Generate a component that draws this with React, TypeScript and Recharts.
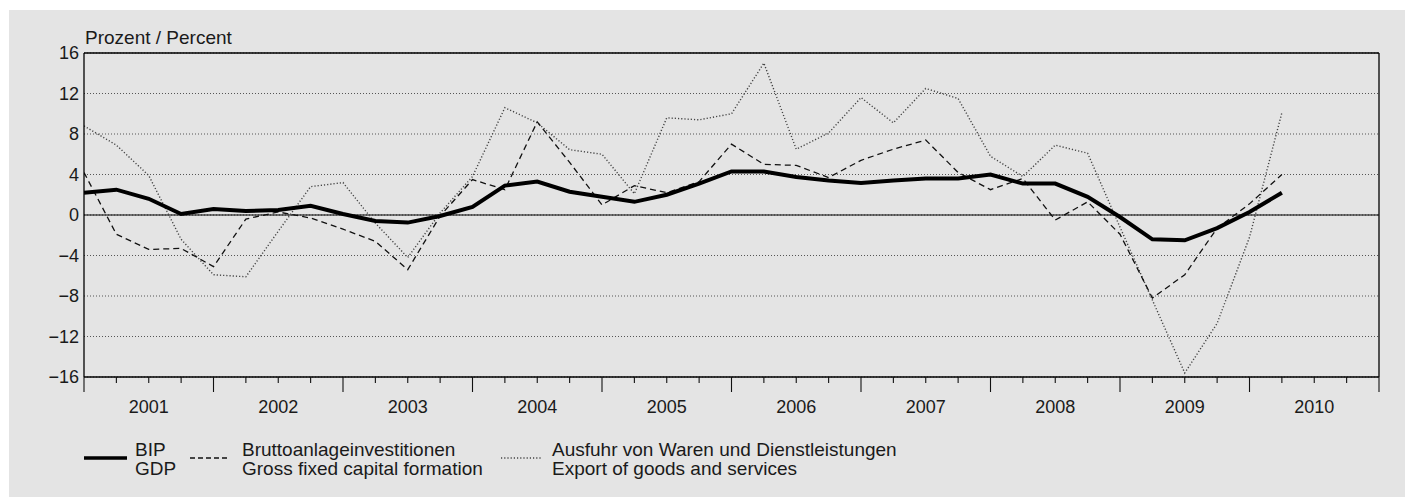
import { CartesianGrid, Line, LineChart, ReferenceLine, XAxis, YAxis } from 'recharts'

// quarterly, 2001 Q1 – 2010 Q2
const quarters = [
  '2001Q1', '2001Q2', '2001Q3', '2001Q4',
  '2002Q1', '2002Q2', '2002Q3', '2002Q4',
  '2003Q1', '2003Q2', '2003Q3', '2003Q4',
  '2004Q1', '2004Q2', '2004Q3', '2004Q4',
  '2005Q1', '2005Q2', '2005Q3', '2005Q4',
  '2006Q1', '2006Q2', '2006Q3', '2006Q4',
  '2007Q1', '2007Q2', '2007Q3', '2007Q4',
  '2008Q1', '2008Q2', '2008Q3', '2008Q4',
  '2009Q1', '2009Q2', '2009Q3', '2009Q4',
  '2010Q1', '2010Q2',
]

const gdp = [
  2.2, 2.5, 1.6, 0.1, 0.6, 0.4, 0.5, 0.9, 0.1, -0.6, -0.75, -0.1,
  0.8, 2.9, 3.3, 2.3, 1.8, 1.3, 2.0, 3.1, 4.3, 4.3, 3.75, 3.4,
  3.15, 3.4, 3.6, 3.6, 4.0, 3.1, 3.1, 1.8, -0.2, -2.4, -2.5, -1.3,
  0.3, 2.2,
]

const gfcf = [
  4.2, -1.9, -3.4, -3.3, -5.1, -0.4, 0.3, -0.3, -1.4, -2.6, -5.4, -0.1,
  3.5, 2.5, 9.2, 5.2, 1.0, 2.9, 2.2, 3.3, 7.0, 5.0, 4.9, 3.7,
  5.4, 6.5, 7.4, 4.2, 2.5, 3.6, -0.5, 1.3, -1.9, -8.2, -5.9, -1.3,
  1.1, 4.0,
]

const exports = [
  8.8, 6.9, 3.9, -2.4, -5.9, -6.1, -1.6, 2.8, 3.2, -0.8, -4.2, 0.2,
  3.8, 10.6, 9.1, 6.45, 6.0, 2.1, 9.6, 9.4, 10.0, 15.0, 6.5, 8.1,
  11.6, 9.1, 12.5, 11.5, 5.8, 3.8, 6.9, 6.1, -1.2, -8.4, -15.6, -10.7,
  -2.2, 10.1,
]

const years = ['2001', '2002', '2003', '2004', '2005', '2006', '2007', '2008', '2009', '2010']
const yTicks = [-16, -12, -8, -4, 0, 4, 8, 12, 16]

const data = quarters.map((q, i) => ({
  x: i,
  q,
  gdp: gdp[i],
  gfcf: gfcf[i],
  exp: exports[i],
}))

const xTicks = Array.from({ length: years.length * 4 + 1 }, (_, i) => i)

const font = '"Liberation Sans", Arial, sans-serif'
const textColor = '#1a1a1a'

function XTick(props: any) {
  const { x, y, payload } = props
  const v = payload.value as number
  const major = v % 4 === 0
  return (
    <g>
      <line x1={x} x2={x} y1={y} y2={y + (major ? 15 : 6)} stroke="#111" strokeWidth={1.1} />
      {v % 4 === 2 && (
        <text x={x} y={y + 36} textAnchor="middle" fontSize={18} fontFamily={font} fill={textColor}>
          {years[(v - 2) / 4]}
        </text>
      )}
    </g>
  )
}

const fmtY = (v: number) => (v < 0 ? `\u2212${Math.abs(v)}` : `${v}`)

export default function App() {
  return (
    <div style={{ position: 'relative', width: 1405, height: 489, fontFamily: font }}>
      <div style={{ position: 'absolute', left: 1, top: 2, width: 1404, height: 487, background: '#e4e4e4' }}>
        <LineChart
          width={1404}
          height={487}
          data={data}
          margin={{ top: 43, right: 34, left: 0, bottom: 80 }}
        >
          <CartesianGrid vertical={false} stroke="#555" strokeDasharray="1 2" />
          <XAxis
            dataKey="x"
            type="number"
            domain={[0, 40]}
            ticks={xTicks}
            interval={0}
            tickSize={0}
            tickMargin={0}
            tickLine={false}
            tick={<XTick />}
            axisLine={{ stroke: '#000', strokeWidth: 1.3 }}
            height={40}
            allowDataOverflow
          />
          <YAxis
            type="number"
            domain={[-16, 16]}
            ticks={yTicks}
            interval={0}
            width={75}
            tickSize={0}
            tickMargin={5}
            tickLine={false}
            tickFormatter={fmtY}
            axisLine={{ stroke: '#000', strokeWidth: 1.3 }}
            tick={{ fontSize: 18, fontFamily: font, fill: textColor }}
          />
          <ReferenceLine y={16} stroke="#000" strokeWidth={1.3} />
          <ReferenceLine y={0} stroke="#000" strokeWidth={1.2} />
          <ReferenceLine x={40} stroke="#000" strokeWidth={1.3} />
          <Line
            dataKey="exp"
            stroke="#444"
            strokeWidth={1.4}
            strokeDasharray="1.2 2"
            dot={false}
            isAnimationActive={false}
          />
          <Line
            dataKey="gfcf"
            stroke="#111"
            strokeWidth={1.3}
            strokeDasharray="6 4"
            dot={false}
            isAnimationActive={false}
          />
          <Line
            dataKey="gdp"
            stroke="#000"
            strokeWidth={4}
            dot={false}
            isAnimationActive={false}
          />
        </LineChart>

        <div
          style={{
            position: 'absolute',
            left: 76,
            top: 17.5,
            fontSize: 19,
            lineHeight: '19px',
            color: textColor,
            whiteSpace: 'nowrap',
          }}
        >
          Prozent / Percent
        </div>

        {/* legend */}
        <svg style={{ position: 'absolute', left: 0, top: 440 }} width={560} height={20}>
          <line x1={75} x2={118} y1={8} y2={8} stroke="#000" strokeWidth={3.5} />
          <line x1={181} x2={221} y1={8} y2={8} stroke="#111" strokeWidth={1.3} strokeDasharray="5 3" />
          <line x1={492} x2={532} y1={8} y2={8} stroke="#444" strokeWidth={1.4} strokeDasharray="1.2 2" />
        </svg>
        {[
          { left: 126, lines: ['BIP', 'GDP'] },
          { left: 233, lines: ['Bruttoanlageinvestitionen', 'Gross fixed capital formation'] },
          { left: 543, lines: ['Ausfuhr von Waren und Dienstleistungen', 'Export of goods and services'] },
        ].map((l) => (
          <div
            key={l.left}
            style={{
              position: 'absolute',
              left: l.left,
              top: 431,
              fontSize: 19,
              lineHeight: '18.6px',
              color: textColor,
              whiteSpace: 'nowrap',
            }}
          >
            {l.lines[0]}
            <br />
            {l.lines[1]}
          </div>
        ))}
      </div>
    </div>
  )
}
